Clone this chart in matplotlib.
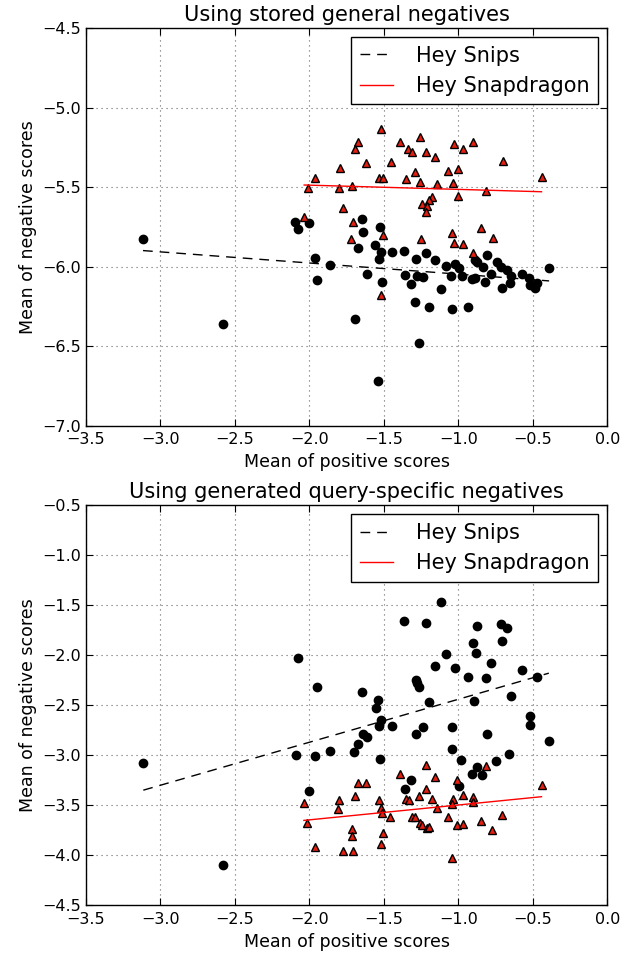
import matplotlib
matplotlib.use("Agg")
import matplotlib.pyplot as plt
import numpy as np

# --- panel 1: stored general negatives ---
stored_snips_x = [-3.117, -2.583, -2.095, -2.077, -2.003, -1.963, -1.862, -1.952, -1.650, -1.639,
                  -1.527, -1.677, -1.560, -1.522, -1.534, -1.448, -1.366, -1.218, -1.287, -1.156,
                  -1.084, -1.616, -1.515, -1.359, -1.281, -1.240, -1.321, -1.119, -1.292, -1.196,
                  -1.695, -1.263, -1.540, -1.023, -0.995, -0.811, -0.889, -0.874, -0.838, -0.744,
                  -0.715, -0.672, -0.648, -0.576, -0.525, -0.391, -0.520, -0.487, -0.471, -0.654,
                  -0.706, -0.784, -0.822, -0.911, -0.889, -0.979, -1.050, -1.042, -0.934]
stored_snips_y = [-5.827, -6.362, -5.718, -5.762, -5.728, -5.945, -5.991, -6.087, -5.703, -5.785,
                  -5.750, -5.882, -5.865, -5.907, -5.953, -5.907, -5.903, -5.917, -5.953, -5.961,
                  -5.995, -6.047, -6.096, -6.053, -6.060, -6.068, -6.112, -6.143, -6.221, -6.255,
                  -6.328, -6.479, -6.720, -5.984, -6.008, -5.928, -5.959, -5.974, -6.001, -5.974,
                  -6.001, -6.022, -6.060, -6.049, -6.070, -6.008, -6.116, -6.137, -6.102, -6.106,
                  -6.133, -6.047, -6.096, -6.081, -6.074, -6.060, -6.058, -6.269, -6.257]
stored_snapdragon_x = [-2.012, -1.963, -2.035, -1.520, -1.672, -1.695, -1.393, -1.260, -1.341, -1.314,
                       -1.218, -1.158, -1.072, -1.621, -1.795, -1.455, -1.292, -1.532, -1.509, -1.354,
                       -1.258, -1.146, -1.804, -1.717, -1.777, -1.176, -1.198, -1.247, -1.213, -1.218,
                       -1.710, -1.505, -1.719, -1.252, -1.030, -0.968, -0.901, -0.703, -1.005, -0.442,
                       -1.035, -1.001, -0.815, -1.046, -0.851, -0.770, -1.030, -0.968, -0.901, -1.520]
stored_snapdragon_y = [-5.504, -5.445, -5.687, -5.137, -5.219, -5.261, -5.219, -5.187, -5.263, -5.282,
                       -5.278, -5.313, -5.397, -5.347, -5.379, -5.343, -5.406, -5.445, -5.445, -5.450,
                       -5.470, -5.481, -5.504, -5.492, -5.630, -5.561, -5.582, -5.609, -5.618, -5.659,
                       -5.722, -5.802, -5.829, -5.827, -5.231, -5.263, -5.219, -5.335, -5.387, -5.439,
                       -5.473, -5.557, -5.523, -5.791, -5.760, -5.823, -5.854, -5.860, -5.917, -6.179]
stored_snips_fit = (-0.070, -6.118)         # slope, intercept
stored_snapdragon_fit = (-0.0266, -5.5416)

# --- panel 2: generated query-specific negatives ---
gen_snips_x = [-3.115, -2.583, -2.075, -1.952, -2.093, -1.963, -2.003, -1.119, -1.366, -1.218,
               -1.086, -1.158, -1.646, -1.287, -1.281, -1.263, -1.542, -1.556, -1.196, -1.522,
               -1.532, -1.448, -1.240, -1.045, -0.874, -0.717, -0.672, -0.905, -0.706, -0.883,
               -1.023, -0.784, -0.576, -0.934, -0.817, -0.475, -0.648, -0.896, -0.520, -0.520,
               -1.862, -1.699, -1.677, -1.643, -1.616, -1.287, -1.046, -1.529, -1.321, -1.359,
               -0.995, -0.811, -0.393, -0.659, -0.748, -0.983, -0.878, -0.911, -0.840]
gen_snips_y = [-3.078, -4.102, -2.025, -2.324, -3.002, -3.012, -3.364, -1.467, -1.656, -1.679,
               -1.992, -2.108, -2.370, -2.254, -2.281, -2.321, -2.447, -2.530, -2.474, -2.647,
               -2.713, -2.713, -2.723, -2.720, -1.706, -1.692, -1.732, -1.882, -1.859, -1.982,
               -2.131, -2.081, -2.148, -2.215, -2.231, -2.215, -2.407, -2.457, -2.607, -2.703,
               -2.962, -2.972, -2.886, -2.786, -2.823, -2.789, -2.939, -3.038, -3.245, -3.338,
               -3.311, -2.789, -2.856, -2.989, -3.056, -3.045, -3.118, -3.185, -3.195]
gen_snapdragon_x = [-2.037, -2.015, -1.961, -1.218, -1.393, -1.158, -1.008, -1.672, -1.621, -1.695,
                    -1.218, -1.263, -1.352, -1.334, -1.176, -1.800, -1.807, -1.534, -1.522, -1.515,
                    -1.460, -1.314, -1.290, -1.258, -1.247, -1.209, -1.196, -1.146, -1.068, -1.035,
                    -1.046, -1.008, -0.968, -1.717, -1.717, -1.509, -1.522, -1.777, -1.710, -0.815,
                    -0.442, -0.968, -0.901, -0.901, -0.851, -0.706, -0.773, -1.040]
gen_snapdragon_y = [-3.477, -3.683, -3.916, -3.095, -3.185, -3.218, -3.252, -3.278, -3.278, -3.411,
                    -3.335, -3.411, -3.437, -3.451, -3.444, -3.451, -3.544, -3.451, -3.527, -3.577,
                    -3.617, -3.617, -3.617, -3.677, -3.703, -3.726, -3.716, -3.527, -3.617, -3.437,
                    -3.494, -3.703, -3.693, -3.736, -3.810, -3.776, -3.893, -3.960, -3.960, -3.112,
                    -3.295, -3.401, -3.417, -3.467, -3.660, -3.604, -3.753, -4.030]
gen_snips_fit = (0.43, -2.012)
gen_snapdragon_fit = (0.1486, -3.351)

titles = ["Using stored general negatives", "Using generated query-specific negatives"]
ylims = [(-7.0, -4.5), (-4.5, -0.5)]
labels = ["Hey Snips", "Hey Snapdragon"]

plt.rcParams['font.family'] = ['DejaVu Sans']

fig = plt.figure(figsize=(6.32, 9.59), dpi=100, facecolor='white')
ax1 = fig.add_axes([0.136, 0.5563, 0.825, 0.4145])
ax2 = fig.add_axes([0.136, 0.0563, 0.825, 0.4170])


def fit_line(ax, xs, coef, **kw):
    xs = np.array([min(xs), max(xs)])
    ax.plot(xs, coef[0] * xs + coef[1], **kw)


panels = [
    (ax1, stored_snips_x, stored_snips_y, stored_snapdragon_x, stored_snapdragon_y,
     stored_snips_fit, stored_snapdragon_fit),
    (ax2, gen_snips_x, gen_snips_y, gen_snapdragon_x, gen_snapdragon_y,
     gen_snips_fit, gen_snapdragon_fit),
]

for i, (ax, sx, sy, dx, dy, sfit, dfit) in enumerate(panels):
    ax.plot(sx, sy, 'o', color='k', markersize=6, markeredgecolor='k', zorder=3)
    ax.plot(dx, dy, '^', color='#e41f10', markersize=6, markeredgecolor='k',
            markeredgewidth=1.0, zorder=3)
    fit_line(ax, sx, sfit, color='k', linestyle=(0, (7, 5)), linewidth=1.0,
             label=labels[0], zorder=4)
    fit_line(ax, dx, dfit, color='#ff0000', linewidth=1.0, label=labels[1], zorder=4)

    ax.set_xlim(-3.5, 0.0)
    ax.set_ylim(*ylims[i])
    ax.set_xticks(np.arange(-3.5, 0.01, 0.5))
    ax.set_yticks(np.arange(ylims[i][0], ylims[i][1] + 0.01, 0.5))
    ax.grid(True, color='0.4', linestyle=(0, (1, 3.5)), linewidth=0.8)
    ax.tick_params(direction='in', top=True, right=True, labelsize=11.5, length=5)
    ax.tick_params(axis='x', pad=5)
    for s in ax.spines.values():
        s.set_linewidth(1.0)
    ax.set_title(titles[i], fontsize=15, pad=5)
    ax.set_xlabel("Mean of positive scores", fontsize=12.5)
    ax.set_ylabel("Mean of negative scores", fontsize=12.5)
    leg = ax.legend(loc='upper right', fontsize=15, handlelength=1.6, handletextpad=1.1,
                    fancybox=False, framealpha=1.0, borderaxespad=0.45, labelspacing=0.5)
    leg.get_frame().set_edgecolor('k')
    leg.get_frame().set_linewidth(1.0)

fig.savefig("out.png", dpi=100, facecolor='white')
